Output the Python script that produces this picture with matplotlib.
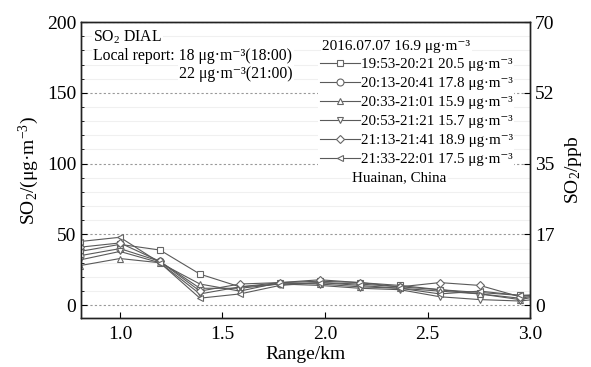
import matplotlib
matplotlib.use("Agg")
import matplotlib.pyplot as plt
from matplotlib.ticker import MultipleLocator

plt.rcParams["font.family"] = ["Liberation Serif", "DejaVu Serif"]
plt.rcParams["mathtext.fontset"] = "custom"
plt.rcParams["mathtext.rm"] = "Liberation Serif"
plt.rcParams["mathtext.it"] = "Liberation Serif:italic"

# range bins (km), last one falls just outside the axis
range_km = [0.805, 1.0, 1.195, 1.39, 1.585, 1.78, 1.975, 2.17, 2.365, 2.56, 2.755, 2.95, 3.145]

s1 = [38, 43, 39, 22, 13, 16, 17, 16, 14, 11, 9, 7, 8]    # 19:53-20:21
s2 = [35, 40, 31, 12, 12, 15, 16, 15, 13, 11, 8, 5, 9]    # 20:13-20:41
s3 = [28, 33, 30, 15, 10, 16, 15, 13, 12, 10, 8, 4, 9]    # 20:33-21:01
s4 = [32, 38, 30, 8, 13, 15, 14, 12, 11, 6, 4, 3, 6]      # 20:53-21:21
s5 = [41, 44, 31, 10, 15, 16, 18, 16, 13, 16, 14, 6, 10]  # 21:13-21:41
s6 = [45, 48, 30, 5, 8, 14, 16, 14, 12, 8, 10, 7, 5]      # 21:33-22:01

series = [s1, s2, s3, s4, s5, s6]
markers = ["s", "o", "^", "v", "D", "<"]
labels = [
    "19:53-20:21 20.5 μg·m⁻³",
    "20:13-20:41 17.8 μg·m⁻³",
    "20:33-21:01 15.9 μg·m⁻³",
    "20:53-21:21 15.7 μg·m⁻³",
    "21:13-21:41 18.9 μg·m⁻³",
    "21:33-22:01 17.5 μg·m⁻³",
]

left_ticks = [0, 50, 100, 150, 200]
ppb_labels = ["0", "17", "35", "52", "70"]

fig = plt.figure(figsize=(5.91, 3.67), dpi=100)
ax = fig.add_axes([0.137, 0.1335, 0.760, 0.8065])

for vals, mk, lab in zip(series, markers, labels):
    ms = 4.2 if mk == "D" else 5
    ax.plot(range_km, vals, color="#5a5a5a", linewidth=0.8, marker=mk,
            markersize=ms, markerfacecolor="white", markeredgecolor="#666666",
            markeredgewidth=0.8, label=lab, zorder=3)

ax.set_xlim(0.81, 3.0)
ax.set_ylim(-9, 200)
ax.set_xticks([1.0, 1.5, 2.0, 2.5, 3.0])
ax.set_yticks(left_ticks)
ax.yaxis.set_minor_locator(MultipleLocator(10))
ax.tick_params(axis="both", which="major", direction="in", length=4,
               labelsize=14, width=0.8)
ax.tick_params(axis="y", which="minor", direction="in", length=2, width=0.6)
ax.tick_params(axis="x", which="major", pad=6)

ax.grid(axis="y", which="major", linestyle=(0, (2, 2)), color="#999999",
        linewidth=0.8, zorder=0)
ax.grid(axis="y", which="minor", linestyle="-", color="#f0f0f0",
        linewidth=0.8, zorder=0)
ax.set_axisbelow(True)

ax.set_xlabel("Range/km", fontsize=14, labelpad=2)
ax.set_ylabel("SO$_2$/(μg·m$^{-3}$)", fontsize=14, labelpad=4)

ax2 = ax.twinx()
ax2.set_ylim(ax.get_ylim())
ax2.set_yticks(left_ticks)
ax2.set_yticklabels(ppb_labels)
ax2.tick_params(axis="y", direction="in", length=4, labelsize=14, width=0.8)
ax2.set_ylabel("SO$_2$/ppb", fontsize=14, labelpad=6)

for a in (ax, ax2):
    for sp in a.spines.values():
        sp.set_linewidth(1.0)
        sp.set_color("#222222")

white = dict(facecolor="white", edgecolor="none", pad=1)

# annotation block top-left
ax.text(0.027, 0.949, "SO$_2$ DIAL", transform=ax.transAxes, fontsize=11.3,
        va="center", ha="left", bbox=white, zorder=4)
ax.text(0.027, 0.885, "Local report: 18 μg·m⁻³(18:00)", transform=ax.transAxes,
        fontsize=11.3, va="center", ha="left", bbox=white, zorder=4)
ax.text(0.472, 0.824, "22 μg·m⁻³(21:00)", transform=ax.transAxes,
        fontsize=11.3, va="center", ha="right", bbox=white, zorder=4)

leg = ax.legend(loc="upper left", bbox_to_anchor=(0.528, 0.885), fontsize=10.8,
                frameon=True, facecolor="white", edgecolor="none", framealpha=1,
                handlelength=2.7, handletextpad=0.05, labelspacing=0.37,
                borderpad=0.1, borderaxespad=0)
leg.set_zorder(5)
ax.text(0.537, 0.916, "2016.07.07 16.9 μg·m⁻³", transform=ax.transAxes,
        fontsize=11, va="center", ha="left", bbox=white, zorder=6)
ax.text(0.604, 0.473, "Huainan, China", transform=ax.transAxes,
        fontsize=10.8, va="center", ha="left", bbox=white, zorder=6)

fig.savefig("out.png", dpi=100)
